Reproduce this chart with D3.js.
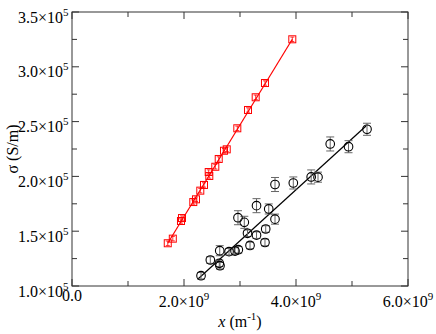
<!DOCTYPE html>
<html>
<head>
<meta charset="utf-8">
<script src="https://cdn.jsdelivr.net/npm/d3@7"></script>
<style>
  body { margin: 0; background: #fff; }
</style>
</head>
<body>
<div id="chart"></div>
<script>
// red series (squares)
var xRed = [1.71e9, 1.80e9, 1.946e9, 1.964e9, 2.166e9, 2.214e9, 2.291e9, 2.357e9, 2.441e9, 2.452e9,
            2.559e9, 2.620e9, 2.714e9, 2.763e9, 2.952e9, 3.143e9, 3.280e9, 3.446e9, 3.934e9];
var sigmaRed = [1.390e5, 1.432e5, 1.593e5, 1.620e5, 1.766e5, 1.791e5, 1.870e5, 1.922e5, 2.040e5, 2.004e5,
                2.088e5, 2.159e5, 2.234e5, 2.247e5, 2.439e5, 2.606e5, 2.722e5, 2.852e5, 3.251e5];
var errRed = [0.02e5, 0.02e5, 0.02e5, 0.02e5, 0.02e5, 0.02e5, 0.02e5, 0.02e5, 0.02e5, 0.02e5,
              0.02e5, 0.02e5, 0.02e5, 0.02e5, 0.02e5, 0.02e5, 0.02e5, 0.02e5, 0.02e5];

// black series (circles with error bars)
var xBlack = [2.304e9, 2.470e9, 2.630e9, 2.643e9, 2.638e9, 2.804e9, 2.911e9, 2.970e9, 2.964e9, 3.077e9,
              3.134e9, 3.179e9, 3.295e9, 3.295e9, 3.446e9, 3.459e9, 3.513e9, 3.625e9, 3.625e9, 3.952e9,
              4.271e9, 4.393e9, 4.611e9, 4.938e9, 5.268e9];
var sigmaBlack = [1.094e5, 1.237e5, 1.207e5, 1.185e5, 1.322e5, 1.313e5, 1.319e5, 1.331e5, 1.623e5, 1.581e5,
                  1.481e5, 1.370e5, 1.733e5, 1.464e5, 1.397e5, 1.520e5, 1.703e5, 1.926e5, 1.610e5, 1.940e5,
                  1.995e5, 1.993e5, 2.296e5, 2.271e5, 2.430e5];
var errBlack = [0.03e5, 0.03e5, 0.03e5, 0.03e5, 0.046e5, 0.03e5, 0.03e5, 0.03e5, 0.064e5, 0.055e5,
                0.03e5, 0.03e5, 0.064e5, 0.03e5, 0.03e5, 0.03e5, 0.046e5, 0.064e5, 0.046e5, 0.055e5,
                0.064e5, 0.046e5, 0.064e5, 0.055e5, 0.055e5];

// fitted lines (end points)
var fitRedX = [1.71e9, 3.934e9];
var fitRedY = [1.390e5, 3.251e5];
var fitBlackX = [2.25e9, 5.25e9];
var fitBlackY = [1.064e5, 2.460e5];

// ticks
var xTicks = [0, 2e9, 4e9, 6e9];
var xMinor = [1e9, 3e9, 5e9];
var yTicks = [1.0e5, 1.5e5, 2.0e5, 2.5e5, 3.0e5, 3.5e5];
var yMinor = [1.25e5, 1.75e5, 2.25e5, 2.75e5, 3.25e5];

var W = 436, H = 334;
var mLeft = 72, mRight = 408, mTop = 12, mBottom = 286;
var serif = "'Liberation Serif', 'Times New Roman', Times, 'DejaVu Serif', serif";

var svg = d3.select("#chart").append("svg")
  .attr("width", W)
  .attr("height", H)
  .attr("font-family", serif);

var x = d3.scaleLinear().domain([0, 6e9]).range([mLeft, mRight]);
var y = d3.scaleLinear().domain([1e5, 3.5e5]).range([mBottom, mTop]);

function mant(v, e) {
  return (v / Math.pow(10, e)).toFixed(1);
}

// frame
svg.append("rect")
  .attr("x", mLeft).attr("y", mTop)
  .attr("width", mRight - mLeft).attr("height", mBottom - mTop)
  .attr("fill", "none").attr("stroke", "#333").attr("stroke-width", 1);

// ticks, inward on all four sides
var tk = svg.append("g").attr("stroke", "#333").attr("stroke-width", 1);
function xTick(v, len) {
  tk.append("line").attr("x1", x(v)).attr("x2", x(v)).attr("y1", mBottom).attr("y2", mBottom - len);
  tk.append("line").attr("x1", x(v)).attr("x2", x(v)).attr("y1", mTop).attr("y2", mTop + len);
}
function yTick(v, len) {
  tk.append("line").attr("y1", y(v)).attr("y2", y(v)).attr("x1", mLeft).attr("x2", mLeft + len);
  tk.append("line").attr("y1", y(v)).attr("y2", y(v)).attr("x1", mRight).attr("x2", mRight - len);
}
xTicks.forEach(function(v){ xTick(v, 7); });
xMinor.forEach(function(v){ xTick(v, 5); });
yTicks.forEach(function(v){ yTick(v, 7); });
yMinor.forEach(function(v){ yTick(v, 5); });

// y tick labels
yTicks.forEach(function(v){
  var t = svg.append("text")
    .attr("x", 68.5)
    .attr("y", y(v) + 10.5)
    .attr("text-anchor", "end")
    .attr("font-family", serif)
    .attr("font-size", 16);
  t.append("tspan").text(mant(v, 5) + "\u00d710");
  t.append("tspan").attr("dy", -7).attr("font-size", 11).text("5");
});

// x tick labels
xTicks.forEach(function(v){
  var t = svg.append("text")
    .attr("x", x(v))
    .attr("y", v === 0 ? 301 : 307)
    .attr("text-anchor", "middle")
    .attr("font-family", serif)
    .attr("font-size", 16);
  if (v === 0) {
    t.text("0.0");
  } else {
    t.append("tspan").text(mant(v, 9) + "\u00d710");
    t.append("tspan").attr("dy", -7).attr("font-size", 11).text("9");
  }
});

// axis titles
var xl = svg.append("text")
  .attr("x", (mLeft + mRight) / 2)
  .attr("y", 327)
  .attr("text-anchor", "middle")
  .attr("font-family", serif)
  .attr("font-size", 16);
xl.append("tspan").attr("font-style", "italic").text("x");
xl.append("tspan").text(" (m");
xl.append("tspan").attr("dy", -7).attr("font-size", 11).text("-1");
xl.append("tspan").attr("dy", 7).text(")");

svg.append("text")
  .attr("transform", "translate(18," + ((mTop + mBottom) / 2) + ") rotate(-90)")
  .attr("text-anchor", "middle")
  .attr("font-family", serif)
  .attr("font-size", 16)
  .text("\u03c3 (S/m)");

var line = d3.line()
  .x(function(d){ return x(d[0]); })
  .y(function(d){ return y(d[1]); });

// red series
svg.append("path")
  .datum(d3.zip(fitRedX, fitRedY))
  .attr("d", line)
  .attr("fill", "none").attr("stroke", "#ff0000").attr("stroke-width", 1.2);

var red = svg.append("g").attr("stroke", "#ff0000").attr("fill", "none");
xRed.forEach(function(xv, i){
  var cx = x(xv), cy = y(sigmaRed[i]);
  var y1 = y(sigmaRed[i] - errRed[i]), y2 = y(sigmaRed[i] + errRed[i]);
  red.append("rect").attr("x", cx - 3.5).attr("y", cy - 3.5).attr("width", 7).attr("height", 7).attr("stroke-width", 1);
  red.append("line").attr("x1", cx).attr("x2", cx).attr("y1", y1).attr("y2", y2).attr("stroke-width", 0.8);
  red.append("line").attr("x1", cx - 2).attr("x2", cx + 2).attr("y1", y1).attr("y2", y1).attr("stroke-width", 0.8);
  red.append("line").attr("x1", cx - 2).attr("x2", cx + 2).attr("y1", y2).attr("y2", y2).attr("stroke-width", 0.8);
});

// black series
svg.append("path")
  .datum(d3.zip(fitBlackX, fitBlackY))
  .attr("d", line)
  .attr("fill", "none").attr("stroke", "#000").attr("stroke-width", 1.2);

var eb = svg.append("g").attr("stroke", "#666").attr("stroke-width", 1);
xBlack.forEach(function(xv, i){
  var cx = x(xv);
  var y1 = y(sigmaBlack[i] - errBlack[i]), y2 = y(sigmaBlack[i] + errBlack[i]);
  eb.append("line").attr("x1", cx).attr("x2", cx).attr("y1", y1).attr("y2", y2);
  eb.append("line").attr("x1", cx - 4).attr("x2", cx + 4).attr("y1", y1).attr("y2", y1);
  eb.append("line").attr("x1", cx - 4).attr("x2", cx + 4).attr("y1", y2).attr("y2", y2);
});

svg.append("g").selectAll("circle")
  .data(d3.zip(xBlack, sigmaBlack))
  .enter().append("circle")
  .attr("cx", function(d){ return x(d[0]); })
  .attr("cy", function(d){ return y(d[1]); })
  .attr("r", 4.3)
  .attr("fill", "none")
  .attr("stroke", "#000")
  .attr("stroke-width", 1.1);
</script>
</body>
</html>
